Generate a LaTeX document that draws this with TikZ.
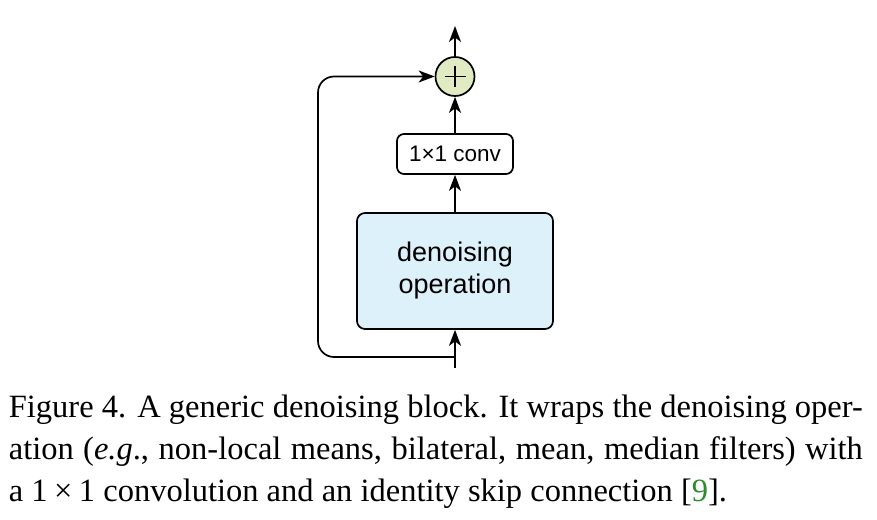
\documentclass[tikz,border=0pt]{standalone}
\usepackage{fontspec}
\setmainfont{Liberation Serif}
\newfontfamily\diafont{Liberation Sans}
\newfontfamily\capfont{Liberation Serif}
\usetikzlibrary{arrows.meta,calc}
\definecolor{plusfill}{HTML}{E1EBC3}
\definecolor{boxfill}{HTML}{DDF1FB}
\definecolor{citegreen}{HTML}{2E8B2E}
\begin{document}
\begin{tikzpicture}[x=1pt,y=-1pt,
  line width=1.7pt,
  >={Stealth[length=16pt,width=12pt,inset=4.5pt]},
  arr/.style={->},
  opbox/.style={draw,rounded corners=8pt,fill=boxfill,minimum width=196pt,minimum height=116pt,inner sep=0pt,font=\diafont\fontsize{27}{32}\selectfont,align=center},
  convbox/.style={draw,rounded corners=7pt,fill=white,minimum width=116pt,minimum height=40pt,inner sep=0pt,font=\diafont\fontsize{22.5}{26}\selectfont},
  plusnode/.style={draw,circle,fill=plusfill,minimum size=39pt,inner sep=0pt},
  capline/.style={anchor=base west,inner sep=0pt,font=\capfont\fontsize{32.5}{42}\selectfont}
  ]
\useasboundingbox (0,0) rectangle (877,519);
\fill[white] (0,0) rectangle (877,519);
\node[plusnode] (plus) at (455,76.5) {};
\draw[line width=1.4pt] ($(plus.center)+(-10.5,0)$) -- ++(21,0);
\draw[line width=1.4pt] ($(plus.center)+(0,-10.5)$) -- ++(0,21);
\node[convbox] (conv) at (455,154) {1×1 conv};
\node[opbox] (op) at (455,271) {denoising\\operation};
\coordinate (out) at (455,26);
\coordinate (in) at (455,368);
\coordinate (split) at (455,357);
\draw[arr] (plus) -- (out);
\draw[arr] (conv) -- (plus);
\draw[arr] (op) -- (conv);
\draw[arr] (in) -- (op);
\draw[arr,rounded corners=16pt] (split) -- (318,357) -- (318,76.5) -- (plus.west);
\node[capline] (c1) at (8,417) {\makebox[854pt][s]{Figure 4. A generic denoising block. It wraps the denoising oper-}};
\node[capline] (c2) at (8,459) {\makebox[854pt][s]{ation (\textit{e.g}., non-local means, bilateral, mean, median filters) with}};
\node[capline] (c3) at (8,501) {a 1\hspace{0.2em}×\hspace{0.2em}1 convolution and an identity skip connection [{\color{citegreen}9}].};
\end{tikzpicture}
\end{document}
